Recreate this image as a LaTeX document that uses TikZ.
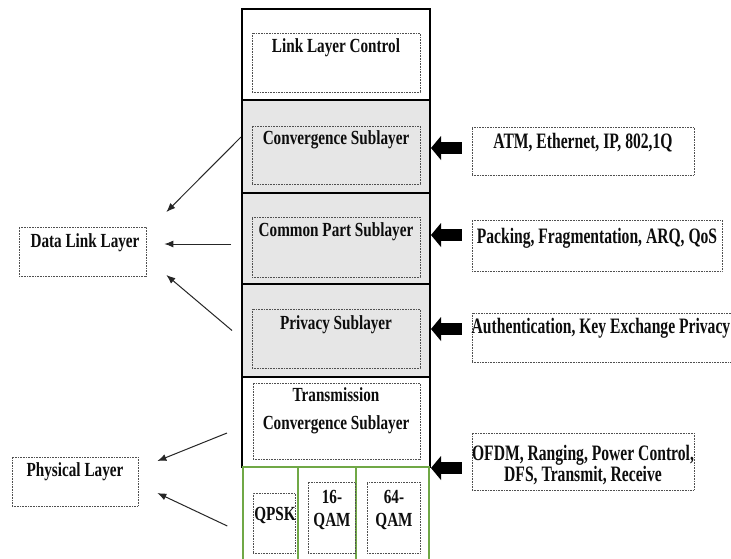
\documentclass[tikz,border=0pt]{standalone}
\usepackage{fontspec}
\newfontfamily\boxfont[FakeStretch=0.76]{Liberation Serif}
\newfontfamily\sidefont[FakeStretch=0.71]{Liberation Serif}
\usetikzlibrary{arrows.meta}
\definecolor{modgreen}{RGB}{112,168,70}
\definecolor{subgrey}{RGB}{230,230,230}
\definecolor{dotgrey}{RGB}{80,80,80}
\begin{document}
\begin{tikzpicture}[x=1pt,y=-1pt,
  layer/.style={draw=black, line width=2pt, fill=white, inner sep=0pt, minimum width=188pt},
  sublayer/.style={layer, fill=subgrey},
  modcell/.style={draw=modgreen, line width=1.3pt, fill=white, inner sep=0pt, minimum height=93pt},
  dotbox/.style={draw=dotgrey, line width=0.7pt, dash pattern=on 0.7pt off 0.9pt, inner sep=0pt},
  lbl/.style={font=\boxfont\bfseries\fontsize{20}{28}\selectfont, text=black!95, align=center, inner sep=0pt},
  sidelbl/.style={font=\sidefont\bfseries\fontsize{22}{20}\selectfont, text=black!95, align=center, inner sep=0pt},
  feed/.style={line width=12pt, -{Triangle[length=10pt,width=24pt,line width=0pt]}, shorten <=10pt},
  pointer/.style={draw=black!85, line width=1pt, -{Latex[length=9pt,width=7pt]}}
]
\fill[white] (0,0) rectangle (731,558);
\useasboundingbox (0,0) rectangle (731,558);

% protocol stack column
\node[layer, minimum height=91pt] (llc) at (336,54.5) {};
\node[sublayer, minimum height=93pt] (conv) at (336,146.5) {};
\node[sublayer, minimum height=91pt] (cps) at (336,238.5) {};
\node[sublayer, minimum height=93pt] (priv) at (336,330.5) {};
\node[layer, minimum height=90pt] (tcs) at (336,422) {};
\node[modcell, minimum width=55pt] (qpsk) at (270.5,513.5) {};
\node[modcell, minimum width=58pt] (qam16) at (327,513.5) {};
\node[modcell, minimum width=73pt] (qam64) at (392.5,513.5) {};

% dotted inner frames
\node[dotbox, minimum width=168pt, minimum height=59pt] (llcbox) at (336,62.5) {};
\node[dotbox, minimum width=168pt, minimum height=58pt] (convbox) at (336,155) {};
\node[dotbox, minimum width=168pt, minimum height=60pt] (cpsbox) at (336,247) {};
\node[dotbox, minimum width=168pt, minimum height=59pt] (privbox) at (336,338.5) {};
\node[dotbox, minimum width=167pt, minimum height=76pt] (tcsbox) at (336.5,421) {};
\node[dotbox, minimum width=42pt, minimum height=60pt] (qpskbox) at (274,523) {};
\node[dotbox, minimum width=47pt, minimum height=71pt] (qam16box) at (331.5,517.5) {};
\node[dotbox, minimum width=53pt, minimum height=71pt] (qam64box) at (393.5,517.5) {};

\node[lbl] (llctext) at (336,48) {Link Layer Control};
\node[lbl] (convtext) at (336,140) {Convergence Sublayer};
\node[lbl] (cpstext) at (336,232) {Common Part Sublayer};
\node[lbl] (privtext) at (336,325) {Privacy Sublayer};
\node[lbl] (tcstext) at (336,411) {Transmission\\Convergence Sublayer};
\node[lbl] (qpsktext) at (275,515) {QPSK};
\node[lbl, font=\boxfont\bfseries\fontsize{20}{23}\selectfont] (qam16text) at (332,510) {16-\\QAM};
\node[lbl, font=\boxfont\bfseries\fontsize{20}{23}\selectfont] (qam64text) at (394,510) {64-\\QAM};

% layer names on the left
\node[dotbox, minimum width=127pt, minimum height=49pt] (dll) at (82.5,251.5) {};
\node[lbl] (dlltext) at (85,243) {Data Link Layer};
\node[dotbox, minimum width=126pt, minimum height=49pt] (phy) at (75,481.5) {};
\node[lbl] (phytext) at (75,472) {Physical Layer};

% functions on the right
\node[dotbox, minimum width=222pt, minimum height=48pt] (atm) at (583,151) {};
\node[sidelbl] (atmtext) at (583,143) {ATM, Ethernet, IP, 802,1Q};
\node[dotbox, minimum width=250pt, minimum height=51pt] (pack) at (597,245.5) {};
\node[sidelbl] (packtext) at (597,238) {Packing, Fragmentation, ARQ, QoS};
\node[dotbox, minimum width=261pt, minimum height=49pt] (auth) at (602.5,337.5) {};
\node[sidelbl] (authtext) at (601,328) {Authentication, Key Exchange Privacy};
\node[dotbox, minimum width=222pt, minimum height=57pt] (ofdm) at (583,461.5) {};
\node[sidelbl] (ofdmtext) at (583,465) {OFDM, Ranging, Power Control,\\DFS, Transmit, Receive};

% block arrows into the stack
\draw[feed] ([yshift=3pt]atm.west) -- ([yshift=3pt]atm.west -| conv.east);
\draw[feed] ([yshift=10.5pt]pack.west) -- ([yshift=10.5pt]pack.west -| cps.east);
\draw[feed] ([yshift=8.5pt]auth.west) -- ([yshift=8.5pt]auth.west -| priv.east);
\draw[feed] ([yshift=-6.5pt]ofdm.west) -- ([yshift=-6.5pt]ofdm.west -| tcs.east);

% pointers to the layer names
\draw[pointer] ([yshift=9.5pt]conv.west) -- ([xshift=20pt,yshift=39.5pt]dll.east);
\draw[pointer] ([xshift=-10pt,yshift=-5.5pt]cps.west) -- ([xshift=18pt,yshift=-5.5pt]dll.east |- cps.west);
\draw[pointer] ([xshift=-9pt]priv.west) -- ([xshift=20pt,yshift=-23.5pt]dll.east);
\draw[pointer] ([xshift=-14pt,yshift=-11pt]tcs.west) -- ([xshift=19pt,yshift=20.5pt]phy.east);
\draw[pointer] ([xshift=-15pt,yshift=-12.5pt]qpsk.west) -- ([xshift=19pt,yshift=-11.5pt]phy.east);
\end{tikzpicture}
\end{document}
